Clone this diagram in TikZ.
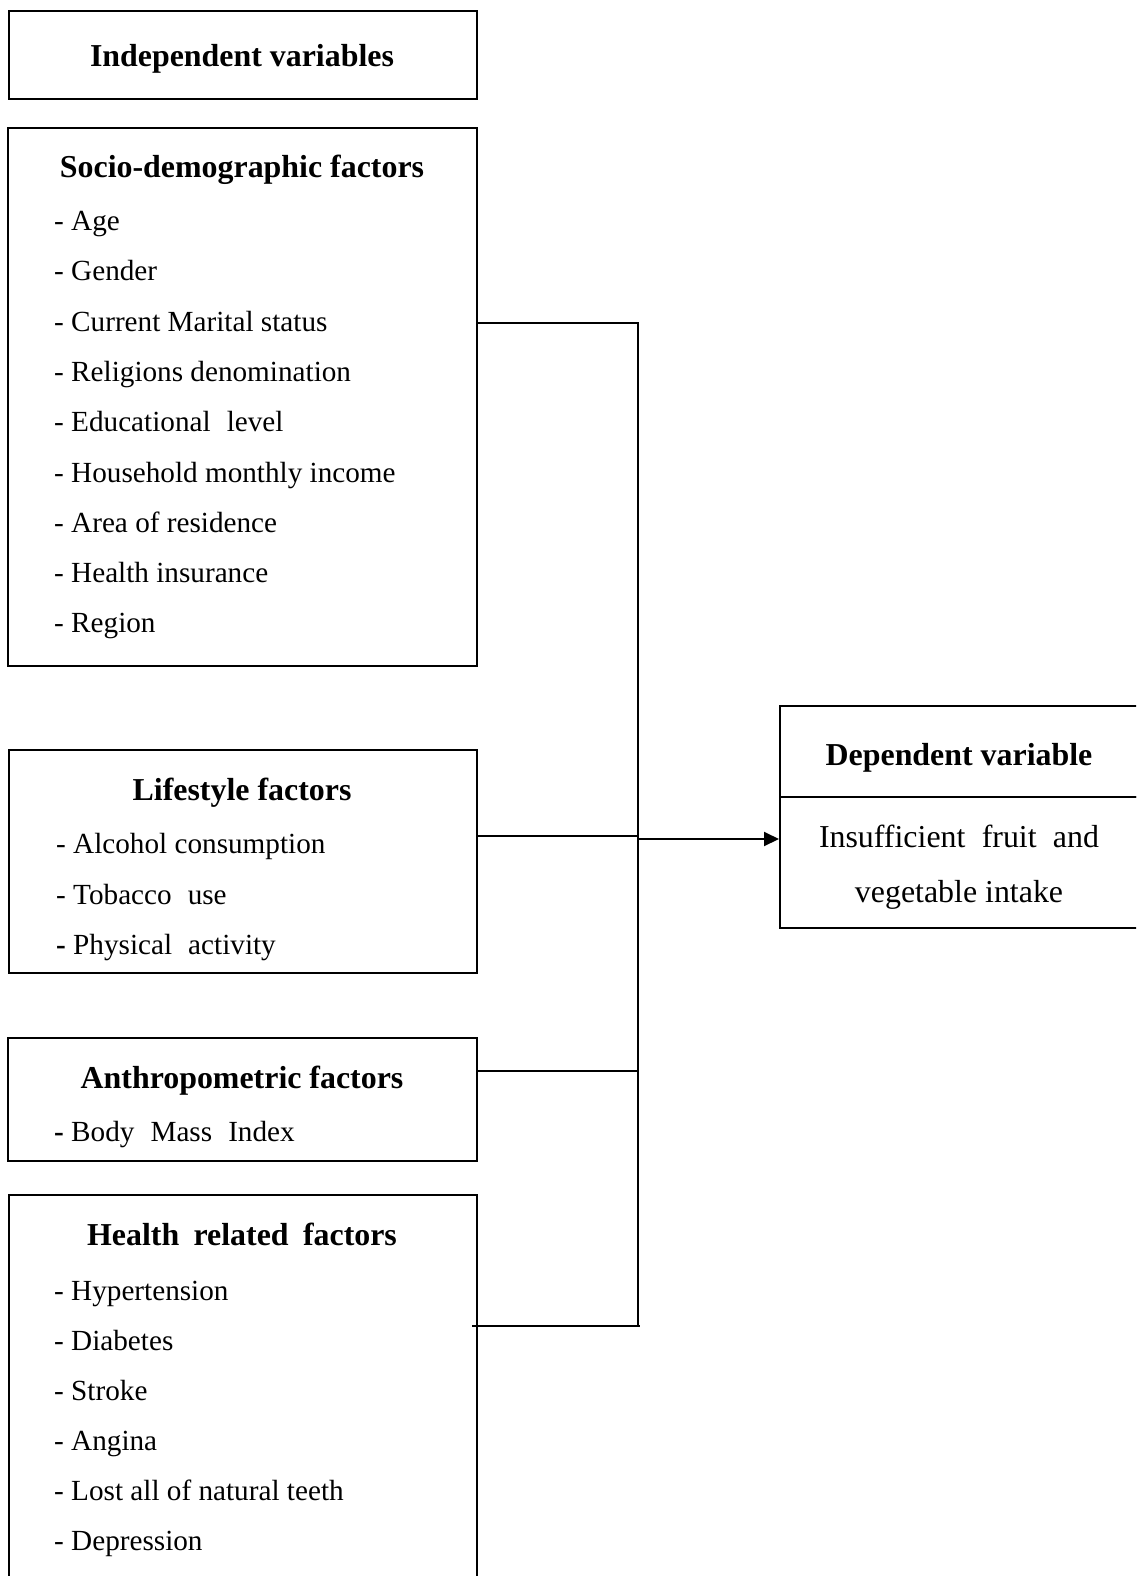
\documentclass[tikz,border=0pt]{standalone}
\usepackage{fontspec}
\setmainfont{Liberation Serif}
\usetikzlibrary{arrows.meta}
\tikzset{
  box/.style={draw, line width=2pt, rectangle, inner sep=0pt, anchor=north west},
  head/.style={inner sep=0pt, anchor=base, font=\fontsize{31.9}{36}\selectfont\bfseries},
  item/.style={inner sep=0pt, anchor=base west, font=\fontsize{29.2}{34}\selectfont},
  body/.style={inner sep=0pt, anchor=base, font=\fontsize{31.9}{36}\selectfont},
  link/.style={line width=2pt},
}
\begin{document}
\begin{tikzpicture}[x=1pt,y=-1pt]
\useasboundingbox (0,0) rectangle (1136,1576);
\clip (0,0) rectangle (1136,1576);
\fill[white] (0,0) rectangle (1136,1576);
% boxes
\node[box, minimum width=468pt, minimum height=88pt] (indep) at (8,10) {};
\node[box, minimum width=469pt, minimum height=538pt] (socio) at (7,127) {};
\node[box, minimum width=468pt, minimum height=223pt] (life) at (8,749) {};
\node[box, minimum width=469pt, minimum height=123pt] (anthro) at (7,1037) {};
\node[box, minimum width=468pt, minimum height=420pt] (health) at (8,1194) {};
\node[box, minimum width=400pt, minimum height=91pt] (deptop) at (779,705) {};
\node[box, minimum width=400pt, minimum height=131pt] (depbot) at (779,796) {};
% titles
\node[head] (tindep) at (242,67) {Independent variables};
\node[head] (tsocio) at (242,177.5) {Socio-demographic factors};
\node[head] (tlife) at (242,800.5) {Lifestyle factors};
\node[head] (tanthro) at (242,1088) {Anthropometric factors};
\node[head] (thealth) at (242,1245) {Health\hspace{0.2em} related\hspace{0.2em} factors};
\node[head] (tdep) at (959,765.5) {Dependent variable};
% socio items
\node[item] (s1) at (54,230.5) {- Age};
\node[item] (s2) at (54,280.8) {- Gender};
\node[item] (s3) at (54,331.1) {- Current Marital status};
\node[item] (s4) at (54,381.4) {- Religions denomination};
\node[item] (s5) at (54,431.7) {- Educational\hspace{0.3em} level};
\node[item] (s6) at (54,482) {- Household monthly income};
\node[item] (s7) at (54,532.3) {- Area of residence};
\node[item] (s8) at (54,582.6) {- Health insurance};
\node[item] (s9) at (54,632.9) {- Region};
% lifestyle items
\node[item] (l1) at (56,853.5) {- Alcohol consumption};
\node[item] (l2) at (56,904) {- Tobacco\hspace{0.3em} use};
\node[item] (l3) at (56,954) {\textbf{-} Physical\hspace{0.3em} activity};
% anthro item
\node[item] (a1) at (54,1141) {\textbf{-} Body\hspace{0.3em} Mass\hspace{0.3em} Index};
% health items
\node[item] (h1) at (54,1300) {- Hypertension};
\node[item] (h2) at (54,1350) {- Diabetes};
\node[item] (h3) at (54,1400) {- Stroke};
\node[item] (h4) at (54,1450) {- Angina};
\node[item] (h5) at (54,1500) {- Lost all of natural teeth};
\node[item] (h6) at (54,1550) {- Depression};
% dependent body
\node[body] (d1) at (959,847) {\makebox[280pt][s]{Insufficient fruit and}};
\node[body] (d2) at (959,902) {vegetable intake};
% connectors
\coordinate (j1) at (638,323);
\coordinate (j2) at (638,836);
\coordinate (j3) at (638,1071);
\coordinate (j4) at (638,1326);
\coordinate (ja) at (637,839);
\draw[link] (socio.east |- j1) -- (j1) -- (j4);
\draw[link] (life.east |- j2) -- (j2);
\draw[link] (anthro.east |- j3) -- (j3);
\draw[link] (472,1326) -- (j4) -- ++(2,0);
\draw[link, -{Triangle[length=15pt,width=14pt]}] (ja) -- (depbot.west |- ja);
\end{tikzpicture}
\end{document}
